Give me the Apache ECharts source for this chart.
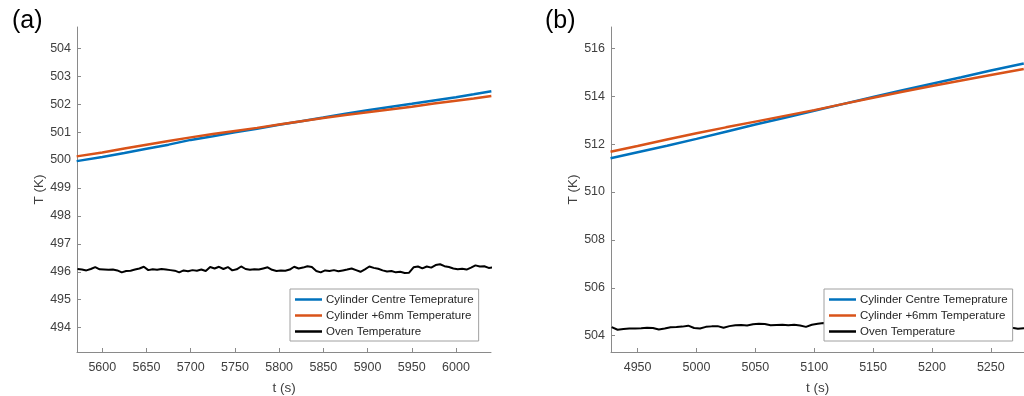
<!DOCTYPE html>
<html>
<head>
<meta charset="utf-8">
<script src="https://cdn.jsdelivr.net/npm/echarts@6/dist/echarts.min.js"></script>
<style>html,body{margin:0;padding:0;background:#fff;}#c{width:1024px;height:396px;}</style>
</head>
<body>
<div id="c"></div>
<script>
// ---------- DATA ----------
const seriesNames = ['Cylinder Centre Temeprature', 'Cylinder +6mm Temperature', 'Oven Temperature'];

// Panel (a)
const aCylTime = [5571, 5600, 5625, 5650, 5675, 5700, 5725, 5750, 5775, 5800, 5825, 5850, 5875, 5900, 5925, 5950, 5975, 6000, 6020, 6040];
const aCentre  = [499.96, 500.11, 500.25, 500.40, 500.55, 500.72, 500.85, 500.99, 501.12, 501.26, 501.39, 501.52, 501.66, 501.78, 501.90, 502.01, 502.13, 502.25, 502.35, 502.46];
const aPlus6   = [500.13, 500.27, 500.41, 500.55, 500.68, 500.81, 500.93, 501.04, 501.15, 501.27, 501.39, 501.50, 501.61, 501.71, 501.81, 501.91, 502.02, 502.12, 502.20, 502.29];
const aOvenStart = 5572, aOvenStep = 5;
const aOven = [
  496.10, 496.08, 496.05, 496.10, 496.17, 496.09, 496.08, 496.07, 496.08, 496.05,
  495.98, 496.03, 496.04, 496.08, 496.12, 496.18, 496.06, 496.09, 496.07, 496.10,
  496.08, 496.06, 496.04, 495.98, 496.05, 496.02, 496.06, 496.04, 496.08, 496.03,
  496.17, 496.12, 496.18, 496.10, 496.17, 496.05, 496.09, 496.19, 496.10, 496.07,
  496.09, 496.08, 496.12, 496.16, 496.07, 496.03, 496.05, 496.04, 496.08, 496.18,
  496.12, 496.15, 496.20, 496.17, 496.03, 495.98, 496.05, 496.03, 496.06, 496.02,
  496.05, 496.08, 496.12, 496.06, 496.00, 496.09, 496.19, 496.14, 496.11, 496.05,
  496.01, 496.03, 495.98, 496.00, 495.96, 495.97, 496.16, 496.19, 496.12, 496.19,
  496.15, 496.24, 496.27, 496.20, 496.17, 496.12, 496.09, 496.11, 496.08, 496.15,
  496.23, 496.19, 496.20, 496.14, 496.16
];
const aXTicks = [5600, 5650, 5700, 5750, 5800, 5850, 5900, 5950, 6000];
const aYTicks = [494, 495, 496, 497, 498, 499, 500, 501, 502, 503, 504];
const aXRange = [5571.4, 6039.6];
const aYRange = [493.13, 504.76];

// Panel (b)
const bCylTime = [4927, 4950, 4975, 5000, 5025, 5050, 5075, 5100, 5125, 5150, 5175, 5200, 5225, 5250, 5278];
const bCentre  = [511.41, 511.66, 511.93, 512.22, 512.52, 512.82, 513.10, 513.39, 513.68, 513.97, 514.25, 514.52, 514.79, 515.07, 515.37];
const bPlus6   = [511.68, 511.92, 512.19, 512.45, 512.70, 512.94, 513.18, 513.42, 513.68, 513.94, 514.19, 514.43, 514.66, 514.89, 515.14];
const bOvenStart = 4928, bOvenStep = 5;
const bOven = [
  504.36, 504.25, 504.28, 504.30, 504.30, 504.31, 504.33, 504.32, 504.26, 504.30,
  504.35, 504.36, 504.38, 504.42, 504.32, 504.30, 504.37, 504.39, 504.40, 504.33,
  504.40, 504.44, 504.45, 504.43, 504.48, 504.50, 504.49, 504.44, 504.45, 504.46,
  504.44, 504.46, 504.43, 504.37, 504.46, 504.50, 504.53, 504.50, 504.47, 504.45,
  504.48, 504.44, 504.42, 504.45, 504.40, 504.43, 504.38, 504.41, 504.39, 504.36,
  504.38, 504.35, 504.37, 504.34, 504.36, 504.33, 504.35, 504.32, 504.34, 504.31,
  504.33, 504.30, 504.32, 504.29, 504.31, 504.30, 504.28, 504.31, 504.33, 504.29,
  504.31, 504.30
];
const bXTicks = [4950, 5000, 5050, 5100, 5150, 5200, 5250];
const bYTicks = [504, 506, 508, 510, 512, 514, 516];
const bXRange = [4927.4, 5278.2];
const bYRange = [503.32, 516.89];

// ---------- BUILD ----------
const FONT = '"Liberation Sans", Arial, sans-serif';
const COLORS = ['#0072BD', '#D95319', '#000000'];
const pair = (xs, ys) => ys.map((v, i) => [xs[i], v]);
const grid = (start, step, ys) => ys.map((v, i) => [start + i * step, v]);
const plain = v => String(Math.round(v));

function xAxis(idx, range, ticks) {
  return {
    type: 'value', gridIndex: idx, min: range[0], max: range[1],
    name: 't (s)', nameLocation: 'middle', nameGap: 29,
    nameTextStyle: { fontFamily: FONT, fontSize: 13.5, color: '#404040' },
    axisLine: { show: true, onZero: false, lineStyle: { color: '#8a8a8a', width: 1 } },
    axisTick: { show: true, inside: true, length: 4, customValues: ticks, lineStyle: { color: '#8a8a8a' } },
    axisLabel: { customValues: ticks, formatter: plain, margin: 9, fontFamily: FONT, fontSize: 12.5, color: '#404040' },
    splitLine: { show: false }
  };
}
function yAxis(idx, range, ticks) {
  return {
    type: 'value', gridIndex: idx, min: range[0], max: range[1],
    name: 'T (K)', nameLocation: 'middle', nameGap: 31,
    nameTextStyle: { fontFamily: FONT, fontSize: 13.5, color: '#404040' },
    axisLine: { show: true, onZero: false, lineStyle: { color: '#8a8a8a', width: 1 } },
    axisTick: { show: true, inside: true, length: 4, customValues: ticks, lineStyle: { color: '#8a8a8a' } },
    axisLabel: { customValues: ticks, formatter: plain, margin: 6, fontFamily: FONT, fontSize: 12.5, color: '#404040' },
    splitLine: { show: false }
  };
}
function line(name, idx, data, color, width) {
  return {
    name, type: 'line', xAxisIndex: idx, yAxisIndex: idx, data,
    showSymbol: false, symbol: 'none', animation: false, clip: true,
    lineStyle: { color, width }, itemStyle: { color }
  };
}
function legend(left, top) {
  return {
    orient: 'vertical', left, top, data: seriesNames,
    icon: 'rect', itemWidth: 27, itemHeight: 2.5, itemGap: 3,
    padding: [4, 5, 3, 5],
    backgroundColor: '#ffffff', borderColor: '#a0a0a0', borderWidth: 1,
    textStyle: { fontFamily: FONT, fontSize: 11.5, color: '#262626', lineHeight: 13, padding: [0, 0, 0, -1] },
    selectedMode: false
  };
}

const option = {
  animation: false,
  color: COLORS,
  grid: [
    { left: 77, top: 27, width: 414, height: 325, outerBoundsMode: 'none', containLabel: false },
    { left: 611, top: 27, width: 413, height: 325, outerBoundsMode: 'none', containLabel: false }
  ],
  xAxis: [xAxis(0, aXRange, aXTicks), xAxis(1, bXRange, bXTicks)],
  yAxis: [yAxis(0, aYRange, aYTicks), yAxis(1, bYRange, bYTicks)],
  legend: [legend(290, 289), legend(824, 289)],
  graphic: [
    { type: 'text', left: 12, top: 9, style: { text: '(a)', fontFamily: FONT, fontSize: 25, fill: '#000' } },
    { type: 'text', left: 545, top: 9, style: { text: '(b)', fontFamily: FONT, fontSize: 25, fill: '#000' } }
  ],
  series: [
    line(seriesNames[0], 0, pair(aCylTime, aCentre), COLORS[0], 2.5),
    line(seriesNames[1], 0, pair(aCylTime, aPlus6), COLORS[1], 2.5),
    line(seriesNames[2], 0, grid(aOvenStart, aOvenStep, aOven), COLORS[2], 2),
    line(seriesNames[0], 1, pair(bCylTime, bCentre), COLORS[0], 2.5),
    line(seriesNames[1], 1, pair(bCylTime, bPlus6), COLORS[1], 2.5),
    line(seriesNames[2], 1, grid(bOvenStart, bOvenStep, bOven), COLORS[2], 2)
  ]
};
const chart = echarts.init(document.getElementById('c'), null, { renderer: 'canvas' });
chart.setOption(option);
</script>
</body>
</html>
